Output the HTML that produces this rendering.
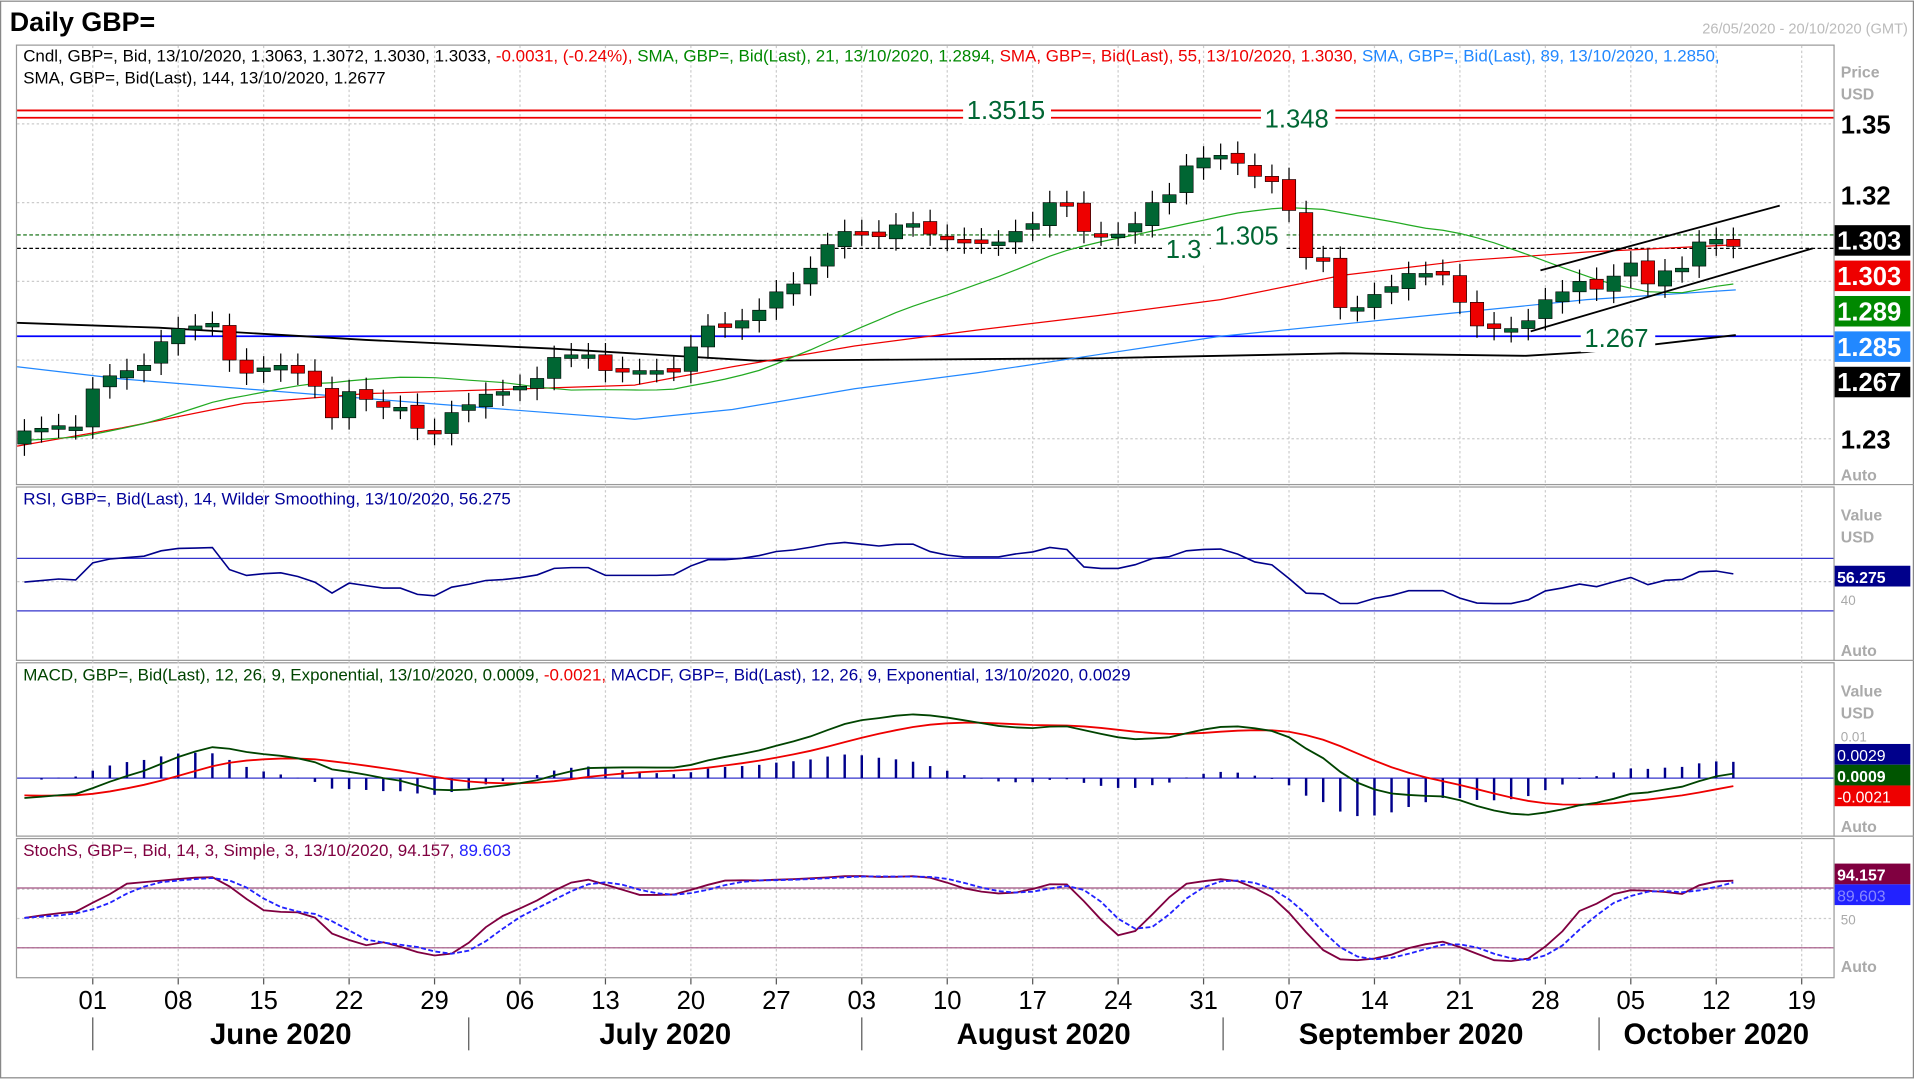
<!DOCTYPE html>
<html><head><meta charset="utf-8"><style>
html,body{margin:0;padding:0;background:#fff;overflow:hidden}
svg{display:block;font-family:"Liberation Sans",sans-serif}
</style></head><body>
<svg id="s" width="1914" height="1079" viewBox="0 0 1568 883" xmlns="http://www.w3.org/2000/svg">
<rect x="0" y="0" width="1568" height="883" fill="#fff"/>
<rect x="0.5" y="0.5" width="1567" height="882" fill="none" stroke="#888"/>
<text x="8" y="25" font-size="22" font-weight="bold">Daily GBP=</text>
<text x="1563" y="27" font-size="12" fill="#bbb" text-anchor="end">26/05/2020 - 20/10/2020 (GMT)</text>
<g fill="none" stroke="#999">
<rect x="13.5" y="36.5" width="1489" height="360"/>
<rect x="13.5" y="398.5" width="1489" height="142"/>
<rect x="13.5" y="542.5" width="1489" height="142"/>
<rect x="13.5" y="686.5" width="1489" height="114"/>
<line x1="1502" y1="396.5" x2="1568" y2="396.5"/>
<line x1="1502" y1="540.5" x2="1568" y2="540.5"/>
<line x1="1502" y1="684.5" x2="1568" y2="684.5"/>
</g>
<g id="grid" stroke="#ccc" stroke-dasharray="2,2"></g>
<g id="main"></g>
<g font-size="13.9">
<text x="19" y="50"><tspan>Cndl, GBP=, Bid, 13/10/2020, 1.3063, 1.3072, 1.3030, 1.3033, </tspan><tspan fill="#e00">-0.0031, (-0.24%), </tspan><tspan fill="#080">SMA, GBP=, Bid(Last),  21, 13/10/2020, 1.2894, </tspan><tspan fill="#e00">SMA, GBP=, Bid(Last),  55, 13/10/2020, 1.3030, </tspan><tspan fill="#28f">SMA, GBP=, Bid(Last),  89, 13/10/2020, 1.2850,</tspan></text>
<text x="19" y="68">SMA, GBP=, Bid(Last),  144, 13/10/2020, 1.2677</text>
<text x="19" y="413" fill="#009">RSI, GBP=, Bid(Last),  14, Wilder Smoothing, 13/10/2020, 56.275</text>
<text x="19" y="557"><tspan fill="#040">MACD, GBP=, Bid(Last),  12, 26, 9, Exponential, 13/10/2020, 0.0009, </tspan><tspan fill="#e00">-0.0021, </tspan><tspan fill="#009">MACDF, GBP=, Bid(Last),  12, 26, 9, Exponential, 13/10/2020, 0.0029</tspan></text>
<text x="19" y="701"><tspan fill="#800040">StochS, GBP=, Bid,  14, 3, Simple, 3, 13/10/2020, 94.157, </tspan><tspan fill="#22f">89.603</tspan></text>
</g>
<g font-size="13" fill="#aaa" font-weight="bold">
<text x="1508" y="63">Price</text><text x="1508" y="81">USD</text>
<text x="1508" y="426">Value</text><text x="1508" y="444">USD</text>
<text x="1508" y="570">Value</text><text x="1508" y="588">USD</text>
<text x="1508" y="393">Auto</text><text x="1508" y="537">Auto</text><text x="1508" y="681">Auto</text><text x="1508" y="796">Auto</text>
<text x="1508" y="495" font-weight="normal" font-size="11">40</text>
<text x="1508" y="607" font-weight="normal" font-size="11">0.01</text>
<text x="1508" y="757" font-weight="normal" font-size="11">50</text>
</g>
<g font-size="21" font-weight="bold">
<text x="1508" y="109">1.35</text><text x="1508" y="167">1.32</text><text x="1508" y="367">1.23</text>
<rect x="1503" y="184" width="62" height="25" fill="#000"/><text x="1505" y="204" fill="#fff">1.303</text>
<rect x="1503" y="213" width="62" height="25" fill="#e00"/><text x="1505" y="233" fill="#fff">1.303</text>
<rect x="1503" y="242" width="62" height="25" fill="#080"/><text x="1505" y="262" fill="#fff">1.289</text>
<rect x="1503" y="271" width="62" height="25" fill="#28f"/><text x="1505" y="291" fill="#fff">1.285</text>
<rect x="1503" y="300" width="62" height="25" fill="#000"/><text x="1505" y="320" fill="#fff">1.267</text>
</g>
<g font-size="13" font-weight="bold">
<rect x="1503" y="463" width="62" height="17" fill="#00008b"/><text x="1505" y="477" fill="#fff">56.275</text>
<rect x="1503" y="609" width="62" height="17" fill="#00008b"/><text x="1505" y="623" fill="#fff" font-weight="normal">0.0029</text>
<rect x="1503" y="626" width="62" height="17" fill="#050"/><text x="1505" y="640" fill="#fff">0.0009</text>
<rect x="1503" y="643" width="62" height="17" fill="#e00"/><text x="1505" y="657" fill="#fff" font-weight="normal">-0.0021</text>
<rect x="1503" y="707" width="62" height="17" fill="#800040"/><text x="1505" y="721" fill="#fff">94.157</text>
<rect x="1503" y="724" width="62" height="17" fill="#22f"/><text x="1505" y="738" fill="#88f" font-weight="normal">89.603</text>
</g>
<g id="axis" font-size="21" text-anchor="middle"></g>
<g font-size="24" font-weight="bold" text-anchor="middle">
<text x="230" y="855">June 2020</text><text x="545" y="855">July 2020</text><text x="855" y="855">August 2020</text><text x="1156" y="855">September 2020</text><text x="1406" y="855">October 2020</text>
</g>
<g stroke="#555"><line x1="76" y1="833" x2="76" y2="860"/><line x1="384" y1="833" x2="384" y2="860"/><line x1="706" y1="833" x2="706" y2="860"/><line x1="1002" y1="833" x2="1002" y2="860"/><line x1="1310" y1="833" x2="1310" y2="860"/></g>
</svg>
<script>
const NS="http://www.w3.org/2000/svg";
function el(p,t,a,txt){const e=document.createElementNS(NS,t);for(const k in a)e.setAttribute(k,a[k]);if(txt!=null)e.textContent=txt;document.getElementById(p).appendChild(e);return e;}
const C=[1.2330,1.2340,1.2350,1.2345,
1.2490,1.2540,1.2560,1.2580,1.2670,
1.2720,1.2730,1.2740,1.2600,1.2550,
1.2570,1.2580,1.2550,1.2500,1.2380,
1.2480,1.2450,1.2420,1.2420,1.2340,
1.2320,1.2400,1.2430,1.2470,1.2480,
1.2500,1.2530,1.2610,1.2620,1.2620,
1.2560,1.2560,1.2560,1.2560,1.2565,
1.2650,1.2730,1.2730,1.2750,1.2790,
1.2860,1.2890,1.2950,1.3040,1.3090,
1.3080,1.3070,1.3115,1.3120,1.3080,
1.3060,1.3050,1.3050,1.3050,1.3090,
1.3120,1.3200,1.3190,1.3090,1.3080,
1.3080,1.3120,1.3200,1.3230,1.3340,
1.3370,1.3380,1.3350,1.3300,1.3280,
1.3170,1.2990,1.2980,1.2800,1.2800,
1.2850,1.2880,1.2930,1.2930,1.2930,
1.2820,1.2730,1.2720,1.2720,1.2750,
1.2830,1.2860,1.2900,1.2870,1.2920,
1.2970,1.2890,1.2940,1.2950,1.3050,
1.3060,1.3033];
const N=C.length,X=i=>20+i*14,Y=p=>101+(1.35-p)*2150;
for(let w=0;w<=21;w++){const x=76+w*70;if(x>14&&x<1500)el("grid","line",{x1:x,y1:37,x2:x,y2:800});}
[1.35,1.32,1.29,1.26,1.23].forEach(p=>el("grid","line",{x1:14,y1:Y(p),x2:1502,y2:Y(p)}));
[476,728,752,776].forEach(y=>el("grid","line",{x1:14,y1:y,x2:1502,y2:y}));
["01","08","15","22","29","06","13","20","27","03","10","17","24","31","07","14","21","28","05","12","19"].forEach((t,k)=>{const x=76+k*70;el("axis","text",{x:x,y:826},t);el("axis","line",{x1:x,y1:801,x2:x,y2:806,stroke:"#555"});});
el("main","line",{x1:14,y1:90,x2:1502,y2:90,stroke:"#e00","stroke-width":1.5});
el("main","line",{x1:14,y1:96,x2:1502,y2:96,stroke:"#e00","stroke-width":1.5});
el("main","line",{x1:14,y1:192,x2:1502,y2:192,stroke:"#060","stroke-dasharray":"3,2"});
el("main","line",{x1:14,y1:203,x2:1502,y2:203,stroke:"#000","stroke-dasharray":"3,2"});
el("main","line",{x1:14,y1:275,x2:1502,y2:275,stroke:"#00f","stroke-width":1.5});
const pl=(pts,col,w)=>el("main","polyline",{points:pts.map(p=>p.join(",")).join(" "),fill:"none",stroke:col,"stroke-width":w||1});
pl([[14,264],[130,268],[300,278],[450,285],[620,295],[900,293],[1100,289],[1250,291],[1300,288],[1422,274]],"#000",1.5);
pl([[14,300],[100,310],[200,318],[350,330],[520,343],[600,335],[700,318],[800,305],[900,290],[1000,275],[1100,265],[1200,255],[1300,245],[1422,237]],"#28f",1);
pl([[14,365],[100,350],[200,330],[300,322],[430,318],[520,315],[600,300],[700,283],[800,270],[900,258],[1000,245],[1100,225],[1200,213],[1300,206],[1422,200]],"#e00",1);
const pre=[];for(let i=0;i<21;i++)pre.push(1.225+i*0.0004);const all=pre.concat(C);
const s21=[];for(let i=0;i<N;i++){let s=0;for(let k=0;k<21;k++)s+=all[i+21-k];s21.push([X(i),Y(s/21)]);}
pl(s21,"#2a2",1);
for(let i=0;i<N;i++){const o=i?C[i-1]+(i%3-1)*0.0008:1.2280,c=C[i];const hi=Math.max(o,c)+0.0045,lo=Math.min(o,c)-0.0045;const x=X(i);
el("main","line",{x1:x,y1:Y(hi),x2:x,y2:Y(lo),stroke:"#000"});const up=c>=o;const t=Y(Math.max(o,c)),h=Math.max(3,Math.abs(Y(o)-Y(c)));
el("main","rect",{x:x-5.5,y:t,width:11,height:h,fill:up?"#063":"#e00",stroke:"#000","stroke-width":0.5});}
el("main","line",{x1:1262,y1:221,x2:1458,y2:168,stroke:"#000","stroke-width":1.5});
el("main","line",{x1:1254,y1:271,x2:1485,y2:203,stroke:"#000","stroke-width":1.5});
const lbl=(x,y,t)=>{el("main","rect",{x:x-3,y:y-18,width:t.length*11+6,height:22,fill:"#fff"});el("main","text",{x:x,y:y,"font-size":21,fill:"#063"},t);};
lbl(792,97,"1.3515");lbl(1036,104,"1.348");lbl(995,200,"1.305");lbl(955,211,"1.3");lbl(1298,284,"1.267");
el("main","line",{x1:14,y1:457,x2:1502,y2:457,stroke:"#33c"});el("main","line",{x1:14,y1:500,x2:1502,y2:500,stroke:"#33c"});
let ag=0.0015,al=0.0015;const rsi=[];for(let i=0;i<N;i++){const d=i?C[i]-C[i-1]:0;ag=(ag*13+Math.max(d,0))/14;al=(al*13+Math.max(-d,0))/14;rsi.push(100-100/(1+ag/al));}
const rs=rsi.map(v=>52+(v-50)*0.85);
pl(rs.map((v,i)=>[X(i),457+(70-v)*1.075]),"#00008b",1.3);
el("main","line",{x1:14,y1:637,x2:1502,y2:637,stroke:"#33c"});
let e12=1.235,e26=1.24,sg=-0.004;const m=[],sgn=[];for(let i=0;i<N;i++){e12+=(C[i]-e12)*2/13;e26+=(C[i]-e26)*2/27;const v=e12-e26;sg+=(v-sg)*0.2;m.push(v);sgn.push(sg);}
const MY=v=>637-v*3400;
for(let i=1;i<N;i++){const h=m[i]-sgn[i];el("main","line",{x1:X(i),y1:637,x2:X(i),y2:MY(h*1.3),stroke:"#00008b","stroke-width":2});}
pl(sgn.map((v,i)=>[X(i),MY(v)]),"#e00",1.5);
pl(m.map((v,i)=>[X(i),MY(v)]),"#040",1.5);
el("main","line",{x1:14,y1:727,x2:1502,y2:727,stroke:"#a05080"});el("main","line",{x1:14,y1:776,x2:1502,y2:776,stroke:"#a05080"});
const H=C.map((c,i)=>Math.max(c,i?C[i-1]:c)+0.0045),L=C.map((c,i)=>Math.min(c,i?C[i-1]:c)-0.0045);
const fk=[];for(let i=0;i<N;i++){let h=-9,l=9;for(let k=Math.max(0,i-13);k<=i;k++){h=Math.max(h,H[k]);l=Math.min(l,L[k]);}fk.push((C[i]-l)/(h-l)*100);}
const sm=(a)=>a.map((v,i)=>{let s=0,n=0;for(let k=Math.max(0,i-2);k<=i;k++){s+=a[k];n++;}return s/n;});
const K=sm(fk),D=sm(K);const SY=v=>776-(v-20)*49/60;
pl(K.map((v,i)=>[X(i),SY(v)]),"#800040",1.5);
el("main","polyline",{points:D.map((v,i)=>X(i)+","+SY(v)).join(" "),fill:"none",stroke:"#22f","stroke-width":1.5,"stroke-dasharray":"4,2"});
</script>
</body></html>
